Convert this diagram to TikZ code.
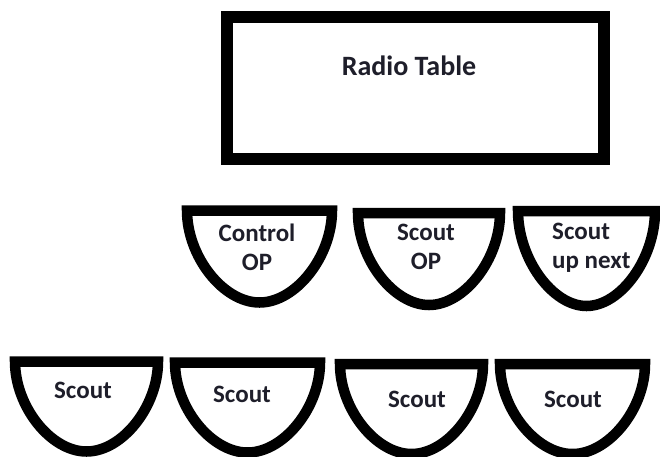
\documentclass[tikz,border=0pt]{standalone}
\usepackage{fontspec}
\setmainfont{Carlito}
\definecolor{txt}{HTML}{1E1E2A}
\tikzset{
  chairline/.style={line width=10.5pt, line join=miter, draw=black},
  tablebox/.style={line width=12pt, draw=black, inner sep=0pt, minimum width=377pt, minimum height=142pt},
  lbl/.style={font=\fontsize{25}{29}\selectfont\bfseries, text=txt, inner sep=0pt, align=center},
  ttl/.style={font=\fontsize{28}{32}\selectfont\bfseries, text=txt, inner sep=0pt},
}
% #1 cx, #2 top, #3 rx, #4 depth
\newcommand\mychair[4]{%
  \draw[chairline] ({#1-#3},#2) .. controls ({#1-#3},{#2+0.5*#4}) and ({#1-0.5*#3},{#2+#4}) .. ({#1},{#2+#4})
    .. controls ({#1+0.5*#3},{#2+#4}) and ({#1+#3},{#2+0.5*#4}) .. ({#1+#3},#2) -- cycle;%
}
\begin{document}
\begin{tikzpicture}[x=1pt,y=-1pt]
  \useasboundingbox (0,0) rectangle (660,456);
  \clip (0,0) rectangle (660,456);
  \fill[white] (0,0) rectangle (660,456);
  % radio table
  \node[tablebox] (table) at (415.5,88) {};
  \node[ttl] (title) at (409,66) {Radio Table};
  % top row
  \mychair{259.5}{210.5}{72.5}{92}
  \mychair{429}{213}{71}{92}
  \mychair{586.5}{211}{68.5}{95}
  \node[lbl] (control) at (257,247) {Control\\OP};
  \node[lbl] (scoutop) at (426,247) {Scout\\OP};
  \node[lbl, align=left, anchor=west] (upnext) at (552,248) {Scout\\up next};
  % bottom row
  \mychair{86.5}{361.5}{71.5}{90}
  \mychair{247.5}{362.5}{72.5}{90}
  \mychair{411.5}{364}{71.5}{90}
  \mychair{572.5}{364}{72.5}{90}
  \node[lbl] (s1) at (83,390) {Scout};
  \node[lbl] (s2) at (242,394) {Scout};
  \node[lbl] (s3) at (417,399) {Scout};
  \node[lbl] (s4) at (573,399) {Scout};
\end{tikzpicture}
\end{document}
